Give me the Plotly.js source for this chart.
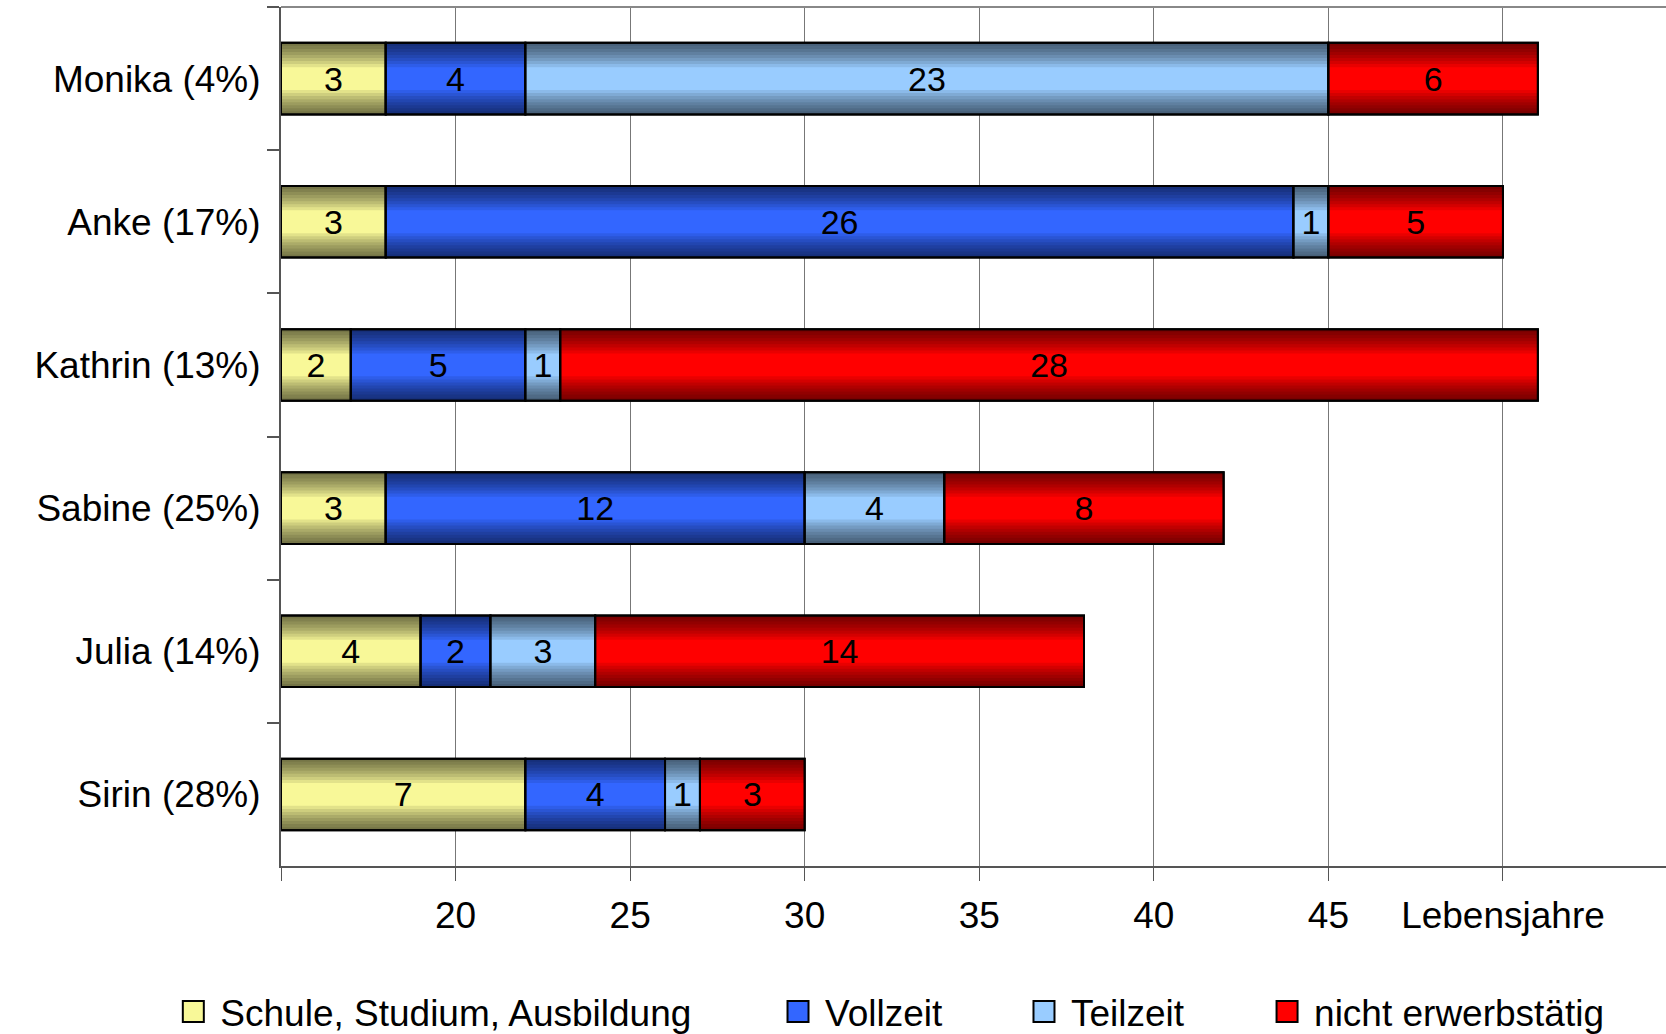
<!DOCTYPE html>
<html>
<head>
<meta charset="utf-8">
<script src="https://cdn.plot.ly/plotly-3.0.1.min.js"></script>
<style>
  html, body { margin: 0; padding: 0; background: #ffffff; }
  #chart { width: 1666px; height: 1034px; }
</style>
</head>
<body>
<div id="chart"></div>
<script>
// ---- Data ----
const categories = ['Monika (4%)', 'Anke (17%)', 'Kathrin (13%)', 'Sabine (25%)', 'Julia (14%)', 'Sirin (28%)'];
const schule   = [3, 3, 2, 3, 4, 7];
const vollzeit = [4, 26, 5, 12, 2, 4];
const teilzeit = [23, 1, 1, 4, 3, 1];
const nicht    = [6, 5, 28, 8, 14, 3];
const startAge = 15;
const seriesNames = ['Schule, Studium, Ausbildung', 'Vollzeit', 'Teilzeit', 'nicht erwerbstätig'];
const xTickVals = [15, 20, 25, 30, 35, 40, 45, 50];
const xTickText = ['', '20', '25', '30', '35', '40', '45', 'Lebensjahre'];

// ---- Styling ----
const FONT = 'Liberation Sans, Arial, sans-serif';
const centerColors = ['#F8F898', '#3366FF', '#99CCFF', '#FF0000'];
const legendNames = ['legend', 'legend2', 'legend3', 'legend4'];
const legendX = [-0.0828, 0.3538, 0.5314, 0.7069];
const BAR_W = 0.5;
const STRIPS = 8;
const GRAD_DEPTH = 0.17;
const stripAlpha = 1 - Math.pow(0.48, 1 / STRIPS);

const seriesValues = [schule, vollzeit, teilzeit, nicht];

// cumulative bases starting at startAge
const bases = [];
let running = categories.map(() => startAge);
seriesValues.forEach(vals => {
  bases.push(running.slice());
  running = running.map((b, i) => b + vals[i]);
});

const traces = [];
seriesValues.forEach((vals, s) => {
  // main bar (legend entry)
  traces.push({
    type: 'bar', orientation: 'h',
    name: seriesNames[s],
    legend: legendNames[s],
    y: categories, x: vals, base: bases[s],
    width: BAR_W,
    marker: { color: centerColors[s], line: { color: '#000000', width: 2 } },
    hoverinfo: 'skip'
  });
  // gradient strips (darkening toward top and bottom edges)
  for (let k = 1; k <= STRIPS; k++) {
    const d = GRAD_DEPTH * k / STRIPS;
    const offs = categories.map(() => -BAR_W / 2).concat(categories.map(() => BAR_W / 2 - d));
    traces.push({
      type: 'bar', orientation: 'h',
      showlegend: false,
      y: categories.concat(categories),
      x: vals.concat(vals),
      base: bases[s].concat(bases[s]),
      width: d,
      offset: offs,
      marker: { color: 'rgba(0,0,0,' + stripAlpha.toFixed(4) + ')', line: { width: 0 } },
      hoverinfo: 'skip'
    });
  }
  // outline + labels on top
  traces.push({
    type: 'bar', orientation: 'h',
    showlegend: false,
    y: categories, x: vals, base: bases[s],
    width: BAR_W,
    marker: { color: 'rgba(0,0,0,0)', line: { color: '#000000', width: 2 } },
    text: vals.map(String),
    textposition: 'inside',
    insidetextanchor: 'middle',
    textangle: 0,
    constraintext: 'none',
    textfont: { family: FONT, size: 34, color: '#000000' },
    hoverinfo: 'skip'
  });
});

function legendCfg(i) {
  return {
    x: legendX[i], xanchor: 'left',
    y: -0.170, yanchor: 'middle',
    orientation: 'h',
    itemwidth: 44,
    bgcolor: 'rgba(0,0,0,0)',
    borderwidth: 0,
    font: { family: FONT, size: 37, color: '#000000' }
  };
}

const layout = {
  width: 1666, height: 1034,
  paper_bgcolor: '#ffffff', plot_bgcolor: '#ffffff',
  font: { family: FONT, size: 37, color: '#000000' },
  barmode: 'overlay',
  margin: { l: 281, r: 0, t: 7, b: 168, autoexpand: false },
  xaxis: {
    range: [15, 54.67],
    tickmode: 'array', tickvals: xTickVals, ticktext: xTickText,
    ticks: 'outside', ticklen: 13, tickcolor: '#555555', tickwidth: 1,
    showline: true, linecolor: '#555555', linewidth: 2, mirror: false,
    showgrid: true, gridcolor: '#777777', gridwidth: 1,
    zeroline: false,
    ticklabelstandoff: 3,
    tickfont: { family: FONT, size: 37, color: '#000000' },
    fixedrange: true
  },
  yaxis: {
    type: 'category',
    autorange: 'reversed',
    tickson: 'boundaries',
    ticks: 'outside', ticklen: 12, tickcolor: '#555555', tickwidth: 2,
    showline: true, linecolor: '#555555', linewidth: 2,
    showgrid: false, zeroline: false,
    ticklabelstandoff: 11,
    tickfont: { family: FONT, size: 37, color: '#000000' },
    fixedrange: true
  },
  shapes: [{
    type: 'line', xref: 'paper', yref: 'paper',
    x0: 0, x1: 1, y0: 1, y1: 1,
    line: { color: '#888888', width: 2 }
  }],
  showlegend: true,
  legend: legendCfg(0),
  legend2: legendCfg(1),
  legend3: legendCfg(2),
  legend4: legendCfg(3)
};

function enlargeLegendIcons() {
  document.querySelectorAll('.infolayer .legendpoints path').forEach(p => {
    if (p.getAttribute('data-scaled')) return;
    const t = p.getAttribute('transform') || '';
    p.setAttribute('transform', t + ' scale(1.75)');
    p.setAttribute('data-scaled', '1');
    p.style.vectorEffect = 'non-scaling-stroke';
    p.style.strokeWidth = '2px';
  });
}

Plotly.newPlot('chart', traces, layout, { displayModeBar: false, staticPlot: true }).then(() => {
  enlargeLegendIcons();
});
</script>
</body>
</html>
